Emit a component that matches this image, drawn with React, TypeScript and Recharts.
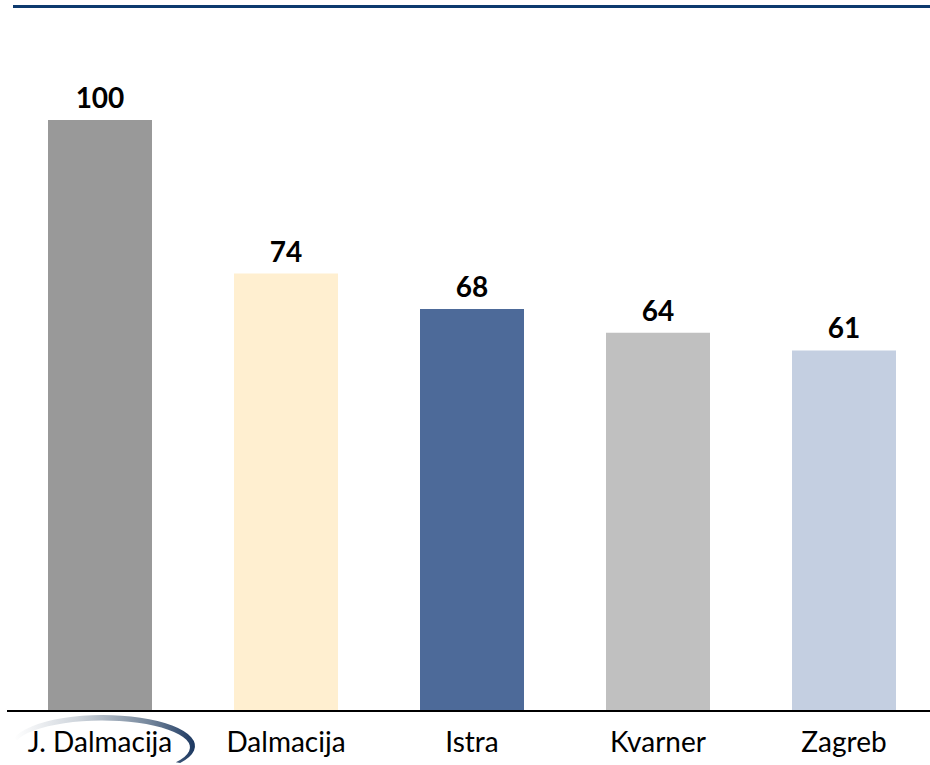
import { BarChart, Bar, XAxis, YAxis, Cell, LabelList } from 'recharts';

const regions = ['J. Dalmacija', 'Dalmacija', 'Istra', 'Kvarner', 'Zagreb'];
const indexValues = [100, 74, 68, 64, 61];
const barColors = ['#999999', '#FFEFD0', '#4D6A99', '#C0C0C0', '#C4CFE1'];

const data = regions.map((name, i) => ({ name, value: indexValues[i] }));

const FONT = 'Lato, "DejaVu Sans", sans-serif';

interface TickProps {
  x?: number;
  y?: number;
  index?: number;
  payload?: { value: string };
}

// category label; the first one gets the curved swoosh underneath
function RegionTick({ x = 0, y = 0, index, payload }: TickProps) {
  const cx = x + 3;
  const cy = y + 27;
  const rad = (a: number) => (a * Math.PI) / 180;
  const ox = (a: number) => cx + 92 * Math.cos(rad(a));
  const oy = (a: number) => cy + 31 * Math.sin(rad(a));
  const ix = (a: number) => cx - 1 + 88 * Math.cos(rad(a));
  const iy = (a: number) => cy + 1.5 + 27 * Math.sin(rad(a));
  const swoosh =
    `M ${ox(-165)} ${oy(-165)} A 92 31 0 1 1 ${ox(33)} ${oy(33)} ` +
    `L ${ix(33)} ${iy(33)} A 88 27 0 1 0 ${ix(-165)} ${iy(-165)} Z`;
  return (
    <g>
      {index === 0 && (
        <>
          <defs>
            <linearGradient id="swoosh" x1="0" y1="0" x2="1" y2="0">
              <stop offset="0%" stopColor="#ffffff" />
              <stop offset="35%" stopColor="#cfd5dc" />
              <stop offset="75%" stopColor="#74869b" />
              <stop offset="100%" stopColor="#1b3760" />
            </linearGradient>
          </defs>
          <path d={swoosh} fill="url(#swoosh)" />
        </>
      )}
      <text x={x} y={y + 33} textAnchor="middle" fontFamily={FONT} fontSize={28} fill="#000">
        {payload?.value}
      </text>
    </g>
  );
}

export default function App() {
  return (
    <div
      style={{
        position: 'absolute',
        left: 0,
        top: 0,
        width: 930,
        height: 765,
        overflow: 'hidden',
        background: '#fff',
      }}
    >
      {/* navy rule at the top */}
      <div
        style={{
          position: 'absolute',
          left: 13,
          top: 5,
          width: 917,
          height: 3,
          background: '#0d3a6e',
        }}
      />
      <BarChart width={940} height={765} data={data} margin={{ top: 7, right: 3, left: 7, bottom: 0 }}>
        <YAxis hide domain={[0, 119.1]} />
        <XAxis
          dataKey="name"
          height={54}
          axisLine={{ stroke: '#000', strokeWidth: 2 }}
          tickLine={false}
          interval={0}
          tick={<RegionTick />}
        />
        <Bar dataKey="value" barSize={104} isAnimationActive={false}>
          {data.map((_, i) => (
            <Cell key={i} fill={barColors[i]} />
          ))}
          <LabelList
            dataKey="value"
            position="top"
            offset={12}
            fill="#000"
            fontFamily={FONT}
            fontSize={28}
            fontWeight={700}
          />
        </Bar>
      </BarChart>
    </div>
  );
}
